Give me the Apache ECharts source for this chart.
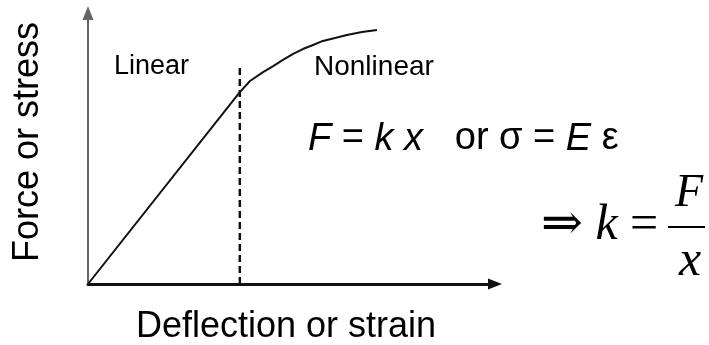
<!DOCTYPE html>
<html>
<head>
<meta charset="utf-8">
<script src="https://cdn.jsdelivr.net/npm/echarts@6/dist/echarts.min.js"></script>
<style>
  html, body { margin: 0; padding: 0; background: #fff; }
  #chart { width: 709px; height: 345px; }
</style>
</head>
<body>
<div id="chart"></div>
<script>
// curve (arbitrary units, 0..10 on both axes)
const strainValues = [0, 3.73, 3.98, 4.30, 4.55, 4.79, 5.04, 5.28, 5.53, 5.77, 6.07, 6.36, 6.73, 7.10];
const stressValues = [0, 7.08, 7.49, 7.82, 8.04, 8.27, 8.49, 8.67, 8.82, 8.97, 9.08, 9.19, 9.30, 9.37];
// limit of the linear region (dashed line)
const limitStrain = 3.73;
const limitTop = 8.0;

const curve = strainValues.map((x, i) => [x, stressValues[i]]);

const chart = echarts.init(document.getElementById('chart'));

const sans = 'Arial, "Liberation Sans", sans-serif';
const serif = '"Times New Roman", "Liberation Serif", "DejaVu Serif", serif';

const option = {
  backgroundColor: '#fff',
  animation: false,
  grid: { left: 88, right: 214, top: 13, bottom: 61 },
  xAxis: {
    type: 'value',
    min: 0,
    max: 10,
    axisLine: {
      show: true,
      symbol: ['none', 'triangle'],
      symbolSize: [11, 14],
      lineStyle: { color: '#111', width: 3 }
    },
    axisTick: { show: false },
    axisLabel: { show: false },
    splitLine: { show: false }
  },
  yAxis: {
    type: 'value',
    min: 0,
    max: 10,
    axisLine: {
      show: true,
      symbol: ['none', 'triangle'],
      symbolSize: [11, 14],
      lineStyle: { color: '#666', width: 2 }
    },
    axisTick: { show: false },
    axisLabel: { show: false },
    splitLine: { show: false }
  },
  series: [
    {
      type: 'line',
      data: curve,
      showSymbol: false,
      lineStyle: { color: '#111', width: 2, join: 'round' }
    },
    {
      // boundary between linear and nonlinear
      type: 'line',
      data: [[limitStrain, 0], [limitStrain, limitTop]],
      showSymbol: false,
      lineStyle: { color: '#111', width: 2.5, type: [7, 4] }
    }
  ],
  graphic: [
    {
      type: 'text', x: 28, y: 142, rotation: Math.PI / 2,
      style: { text: 'Force or stress', font: '36px ' + sans, fill: '#000', align: 'center', verticalAlign: 'middle' }
    },
    {
      type: 'text', x: 286, y: 327,
      style: { text: 'Deflection or strain', font: '36px ' + sans, fill: '#000', align: 'center', verticalAlign: 'middle' }
    },
    {
      type: 'text', x: 114, y: 67,
      style: { text: 'Linear', font: '27px ' + sans, fill: '#000', verticalAlign: 'middle' }
    },
    {
      type: 'text', x: 314, y: 67,
      style: { text: 'Nonlinear', font: '28px ' + sans, fill: '#000', verticalAlign: 'middle' }
    },
    {
      type: 'text', x: 308, y: 139,
      style: {
        text: '{i|F} = {i|k} {i|x}   or σ = {i|E} ε',
        font: '38px ' + sans, fill: '#000', verticalAlign: 'middle',
        rich: { i: { fontStyle: 'italic', fontSize: 38, fontFamily: sans } }
      }
    },
    {
      type: 'text', x: 541, y: 226,
      style: {
        text: '⇒ {i|k} =',
        font: '50px ' + serif, fill: '#000', verticalAlign: 'middle',
        rich: { i: { fontStyle: 'italic', fontSize: 50, fontFamily: serif } }
      }
    },
    {
      type: 'text', x: 689, y: 194,
      style: { text: 'F', font: 'italic 46px ' + serif, fill: '#000', align: 'center', verticalAlign: 'middle' }
    },
    {
      type: 'line', shape: { x1: 668, y1: 227, x2: 705, y2: 227 },
      style: { stroke: '#000', lineWidth: 2 }
    },
    {
      type: 'text', x: 690, y: 262,
      style: { text: 'x', font: 'italic 50px ' + serif, fill: '#000', align: 'center', verticalAlign: 'middle' }
    }
  ]
};

chart.setOption(option);
</script>
</body>
</html>
